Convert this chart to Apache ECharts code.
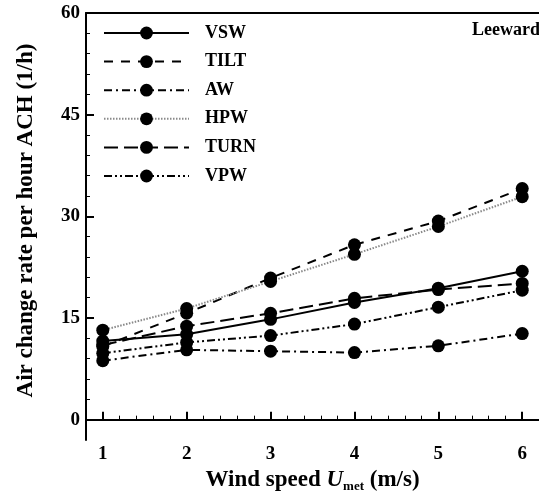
<!DOCTYPE html>
<html><head><meta charset="utf-8">
<script src="https://cdn.jsdelivr.net/npm/echarts@6/dist/echarts.min.js"></script>
<style>html,body{margin:0;padding:0;background:#fff}#c{width:539px;height:499px}</style>
</head><body><div id="c"></div>
<script>
const windSpeed = [1, 2, 3, 4, 5, 6];
const seriesNames = ['VSW', 'TILT', 'AW', 'HPW', 'TURN', 'VPW'];
const VSW  = [11.6, 12.6, 14.8, 17.3, 19.4, 21.9];
const TILT = [10.8, 15.7, 20.9, 25.8, 29.3, 34.1];
const AW   = [8.7, 10.3, 10.1, 9.9, 10.9, 12.7];
const HPW  = [13.2, 16.4, 20.4, 24.4, 28.5, 32.9];
const TURN = [11.0, 13.8, 15.7, 17.9, 19.2, 20.1];
const VPW  = [9.8, 11.4, 12.4, 14.1, 16.6, 19.1];
const yTickLabels = [0, 15, 30, 45, 60];
const yMinorTicks = [3, 6, 9, 12, 18, 21, 24, 27, 33, 36, 39, 42, 48, 51, 54, 57];
const xTickLabels = [1, 2, 3, 4, 5, 6];
const xMinorTicks = [1.2, 1.4, 1.6, 1.8, 2.2, 2.4, 2.6, 2.8, 3.2, 3.4, 3.6, 3.8, 4.2, 4.4, 4.6, 4.8, 5.2, 5.4, 5.6, 5.8, 6.2];

const values = {VSW, TILT, AW, HPW, TURN, VPW};
const styles = {
  VSW:  {color: '#000', type: 'solid', width: 2},
  TILT: {color: '#000', type: [9, 8], width: 2},
  AW:   {color: '#000', type: [8, 4, 2, 4], width: 2},
  HPW:  {color: '#8a8a8a', type: [1.5, 1.5], width: 2},
  TURN: {color: '#000', type: [14, 6], width: 2},
  VPW:  {color: '#000', type: [8, 3, 2, 3, 2, 3], width: 2}
};
const FONT = '"Liberation Serif", "DejaVu Serif", serif';

const chart = echarts.init(document.getElementById('c'));
const xBase = {type: 'value', min: 0.8, max: 6.2, splitLine: {show: false}, gridIndex: 0};
const yBase = {type: 'value', min: -3, max: 60, splitLine: {show: false}, gridIndex: 0};
chart.setOption({
  animation: false,
  grid: {left: 86, top: 13, right: -6, bottom: 59},
  xAxis: [
    Object.assign({}, xBase, {
      position: 'bottom',
      axisLine: {show: true, lineStyle: {color: '#000', width: 2}},
      axisTick: {show: true, inside: true, length: 8, customValues: xTickLabels, lineStyle: {color: '#000', width: 2}},
      axisLabel: {show: true, customValues: xTickLabels, margin: 5, color: '#000', fontSize: 19, fontWeight: 'bold', fontFamily: FONT},
      name: 'Wind speed {i|U}{s|met} (m/s)',
      nameLocation: 'middle', nameGap: 21,
      nameTextStyle: {color: '#000', fontSize: 23, fontWeight: 'bold', fontFamily: FONT,
        rich: {
          i: {fontStyle: 'italic', fontSize: 23, fontWeight: 'bold', fontFamily: FONT, color: '#000'},
          s: {fontSize: 13, fontWeight: 'bold', fontFamily: FONT, color: '#000', padding: [12, 0, 0, 0]}
        }}
    }),
    Object.assign({}, xBase, {
      position: 'bottom',
      axisLine: {show: false},
      axisTick: {show: true, inside: true, length: 4, customValues: xMinorTicks, lineStyle: {color: '#000', width: 1}},
      axisLabel: {show: false}
    }),
    Object.assign({}, xBase, {
      position: 'top',
      axisLine: {show: true, lineStyle: {color: '#000', width: 2}},
      axisTick: {show: false},
      axisLabel: {show: false}
    })
  ],
  yAxis: [
    Object.assign({}, yBase, {
      position: 'left',
      axisLine: {show: true, lineStyle: {color: '#000', width: 2}},
      axisTick: {show: true, inside: true, length: 8, customValues: yTickLabels, lineStyle: {color: '#000', width: 2}},
      axisLabel: {show: true, customValues: yTickLabels, margin: 6, color: '#000', fontSize: 19, fontWeight: 'bold', fontFamily: FONT},
      name: 'Air change rate per hour ACH (1/h)',
      nameLocation: 'middle', nameGap: 48,
      nameTextStyle: {color: '#000', fontSize: 23, fontWeight: 'bold', fontFamily: FONT, padding: [0, 0, 0, 12]}
    }),
    Object.assign({}, yBase, {
      position: 'left',
      axisLine: {show: false},
      axisTick: {show: true, inside: true, length: 4, customValues: yMinorTicks, lineStyle: {color: '#000', width: 1}},
      axisLabel: {show: false}
    })
  ],
  legend: {
    orient: 'vertical', left: 98, top: 19,
    itemWidth: 85, itemHeight: 16, itemGap: 10.6,
    data: seriesNames,
    textStyle: {color: '#000', fontSize: 18, fontWeight: 'bold', fontFamily: FONT, padding: [0, 0, 0, 11]}
  },
  graphic: [{
    type: 'text', left: 472, top: 21,
    style: {text: 'Leeward', fill: '#000', font: 'bold 18px ' + FONT}
  }],
  series: seriesNames.map(n => ({
    name: n, type: 'line', xAxisIndex: 0, yAxisIndex: 0,
    data: windSpeed.map((x, i) => [x, values[n][i]]),
    symbol: 'circle', symbolSize: 13,
    itemStyle: {color: '#000'},
    lineStyle: styles[n]
  }))
});
</script></body></html>
